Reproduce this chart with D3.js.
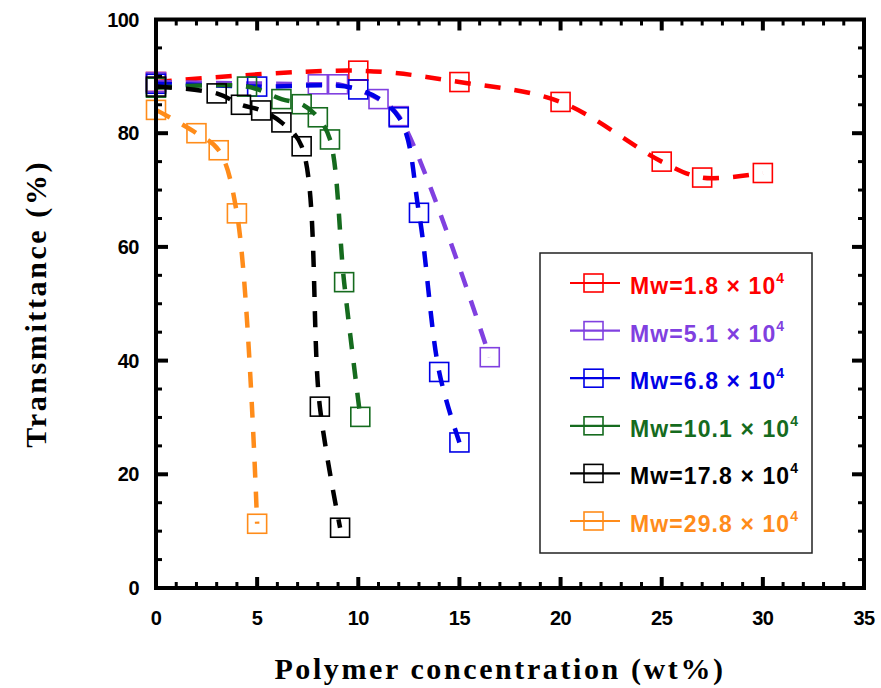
<!DOCTYPE html>
<html>
<head>
<meta charset="utf-8">
<script src="https://cdn.jsdelivr.net/npm/d3@7"></script>
<style>
  body { margin: 0; background: #fff; }
  svg { display: block; }
</style>
</head>
<body>
<script>
// ---------- DATA ----------
var seriesNames = ["1.8", "5.1", "6.8", "10.1", "17.8", "29.8"];
var seriesColors = ["#ff0000", "#8040e0", "#0000e6", "#156b1e", "#000000", "#ff8c1a"];

var xRed = [0, 10, 15, 20, 25, 27, 30];
var yRed = [89, 91, 89, 85.5, 75, 72.2, 73];

var xPurple = [0, 8, 9, 11, 12, 16.5];
var yPurple = [89, 88.6, 88.6, 86, 83, 40.6];

var xBlue = [0, 5, 10, 12, 13, 14, 15];
var yBlue = [88.7, 88.2, 87.7, 82.8, 66, 38, 25.6];

var xGreen = [0, 4.5, 6.2, 7.2, 8, 8.6, 9.3, 10.1];
var yGreen = [88, 88.2, 86, 85.1, 82.8, 78.9, 53.8, 30.1];

var xBlack = [0, 3, 4.2, 5.2, 6.2, 7.2, 8.1, 9.1];
var yBlack = [88.2, 87, 85, 84, 81.9, 77.7, 31.9, 10.6];

var xOrange = [0, 2, 3.1, 4, 5];
var yOrange = [84.1, 80, 77, 65.9, 11.3];

var xTicks = [0, 5, 10, 15, 20, 25, 30, 35];
var yTicks = [0, 20, 40, 60, 80, 100];

var allX = [xRed, xPurple, xBlue, xGreen, xBlack, xOrange];
var allY = [yRed, yPurple, yBlue, yGreen, yBlack, yOrange];

// ---------- DIMENSIONS ----------
var w = 881, h = 688;
var plotL = 156, plotR = 864, plotT = 19.5, plotB = 588;

var x = d3.scaleLinear().domain([0, 35]).range([plotL, plotR]);
var y = d3.scaleLinear().domain([0, 100]).range([plotB, plotT]);

var svg = d3.select("body").append("svg")
  .attr("width", w)
  .attr("height", h);

// ---------- SERIES ----------
var line = d3.line()
  .x(d => x(d[0]))
  .y(d => y(d[1]))
  .curve(d3.curveCatmullRom.alpha(0.5));

var sq = 19;

allX.forEach(function (xs, i) {
  var pts = xs.map((v, j) => [v, allY[i][j]]);
  var g = svg.append("g");
  g.append("path")
    .attr("d", line(pts))
    .attr("fill", "none")
    .attr("stroke", seriesColors[i])
    .attr("stroke-width", 4.5)
    .attr("stroke-dasharray", "16,14");
  g.selectAll("rect")
    .data(pts)
    .enter()
    .append("rect")
    .attr("x", d => x(d[0]) - sq / 2)
    .attr("y", d => y(d[1]) - sq / 2)
    .attr("width", sq)
    .attr("height", sq)
    .attr("fill", "none")
    .attr("stroke", seriesColors[i])
    .attr("stroke-width", 1.6);
});

// ---------- FRAME + TICKS ----------
var axisG = svg.append("g");
axisG.append("rect")
  .attr("x", plotL).attr("y", plotT)
  .attr("width", plotR - plotL).attr("height", plotB - plotT)
  .attr("fill", "none")
  .attr("stroke", "#000")
  .attr("stroke-width", 4);

var xMinor = d3.range(1, 35);
var yMinor = d3.range(5, 100, 5);

xMinor.forEach(function (v) {
  var major = v % 5 === 0;
  var len = major ? 11 : 6;
  var sw = major ? 4 : 3;
  axisG.append("line").attr("x1", x(v)).attr("x2", x(v))
    .attr("y1", plotB).attr("y2", plotB - len)
    .attr("stroke", "#000").attr("stroke-width", sw);
  axisG.append("line").attr("x1", x(v)).attr("x2", x(v))
    .attr("y1", plotT).attr("y2", plotT + len)
    .attr("stroke", "#000").attr("stroke-width", sw);
});

yMinor.forEach(function (v) {
  var major = v % 20 === 0;
  var len = major ? 12 : 6;
  var sw = major ? 4 : 3;
  axisG.append("line").attr("y1", y(v)).attr("y2", y(v))
    .attr("x1", plotL).attr("x2", plotL + len)
    .attr("stroke", "#000").attr("stroke-width", sw);
  axisG.append("line").attr("y1", y(v)).attr("y2", y(v))
    .attr("x1", plotR).attr("x2", plotR - len)
    .attr("stroke", "#000").attr("stroke-width", sw);
});

// tick labels
axisG.selectAll(".xt")
  .data(xTicks)
  .enter()
  .append("text")
  .attr("x", d => x(d))
  .attr("y", 625)
  .attr("text-anchor", "middle")
  .attr("font-family", "Liberation Sans, Arial, sans-serif")
  .attr("font-weight", "bold")
  .attr("font-size", "20px")
  .attr("letter-spacing", "-0.5")
  .text(d => d);

axisG.selectAll(".yt")
  .data(yTicks)
  .enter()
  .append("text")
  .attr("x", 139)
  .attr("y", d => y(d) + 7)
  .attr("text-anchor", "end")
  .attr("font-family", "Liberation Sans, Arial, sans-serif")
  .attr("font-weight", "bold")
  .attr("font-size", "20px")
  .attr("letter-spacing", "-0.5")
  .text(d => d);

// axis titles
svg.append("text")
  .attr("x", 500)
  .attr("y", 679)
  .attr("text-anchor", "middle")
  .attr("font-family", "Liberation Serif, Times New Roman, serif")
  .attr("font-weight", "bold")
  .attr("font-size", "30px")
  .attr("letter-spacing", "2.6")
  .text("Polymer concentration (wt%)");

svg.append("text")
  .attr("transform", "translate(46," + (plotT + plotB) / 2 + ") rotate(-90)")
  .attr("text-anchor", "middle")
  .attr("font-family", "Liberation Serif, Times New Roman, serif")
  .attr("font-weight", "bold")
  .attr("font-size", "30px")
  .attr("letter-spacing", "2.6")
  .text("Transmittance (%)");

// ---------- LEGEND ----------
var lg = svg.append("g");
lg.append("rect")
  .attr("x", 540).attr("y", 253)
  .attr("width", 272).attr("height", 300)
  .attr("fill", "#fff")
  .attr("stroke", "#222")
  .attr("stroke-width", 1.5);

seriesNames.forEach(function (name, i) {
  var cy = 283 + i * 47.6;
  lg.append("line")
    .attr("x1", 570).attr("x2", 620)
    .attr("y1", cy).attr("y2", cy)
    .attr("stroke", seriesColors[i])
    .attr("stroke-width", 2.2);
  lg.append("rect")
    .attr("x", 584).attr("y", cy - 9)
    .attr("width", 19).attr("height", 18)
    .attr("fill", "none")
    .attr("stroke", seriesColors[i])
    .attr("stroke-width", 1.6);
  var t = lg.append("text")
    .attr("x", 630)
    .attr("y", cy + 11)
    .attr("fill", seriesColors[i])
    .attr("font-family", "Liberation Sans, Arial, sans-serif")
    .attr("font-weight", "bold")
    .attr("font-size", "23px")
    .attr("letter-spacing", "1.1");
  t.append("tspan").text("Mw=" + name + " \u00d7 " + "10");
  t.append("tspan").attr("dy", -11).attr("font-size", "14px").text("4");
});
</script>
</body>
</html>
